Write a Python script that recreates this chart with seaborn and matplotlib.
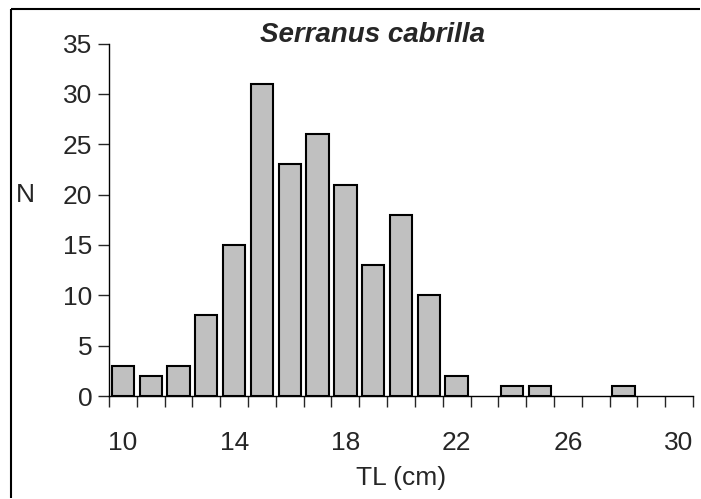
import numpy as np
import pandas as pd
import matplotlib
matplotlib.use("Agg")
import matplotlib.pyplot as plt
from matplotlib.lines import Line2D
import seaborn as sb

# Length classes (cm) and counts
tl_cm = [10, 11, 12, 13, 14, 15, 16, 17, 18, 19, 20, 21, 22, 23, 24, 25, 26, 27, 28, 29, 30]
n_fish = [3, 2, 3, 8, 15, 31, 23, 26, 21, 13, 18, 10, 2, 0, 1, 1, 0, 0, 1, 0, 0]
tick_labels = ["10", "14", "18", "22", "26", "30"]
title = "Serranus cabrilla"

sb.set_style("white")
plt.rcParams['font.family'] = ['Liberation Sans', 'DejaVu Sans']

df = pd.DataFrame({"TL": tl_cm, "N": n_fish})

fig = plt.figure(figsize=(7.01, 4.99), dpi=100)
ax = fig.add_axes([109 / 701, 1 - 396 / 499, (693 - 109) / 701, (396 - 43.5) / 499])

sb.barplot(data=df, x="TL", y="N", order=tl_cm, color="#c0c0c0", saturation=1,
           edgecolor="black", linewidth=1.5, width=0.8, ax=ax)

# empty classes: no bar outline
for p in ax.patches:
    if p.get_height() == 0:
        p.set_visible(False)

ax.set_xlim(-0.5, len(tl_cm) - 0.5)
ax.set_ylim(0, 35)
ax.set_yticks(np.arange(0, 36, 5))
ax.tick_params(axis="y", direction="out", length=8, width=1, labelsize=19, pad=4, left=True)

# labels every 4th class, tick marks between classes
ax.set_xticks(np.arange(0, len(tl_cm), 4))
ax.set_xticklabels(tick_labels)
ax.set_xticks(np.arange(-0.5, len(tl_cm), 1), minor=True)
ax.tick_params(axis="x", which="major", length=0, labelsize=19, pad=25)
ax.tick_params(axis="x", which="minor", direction="out", length=8, width=1, bottom=True)

for s in ["top", "right"]:
    ax.spines[s].set_visible(False)
for s in ["left", "bottom"]:
    ax.spines[s].set_color("black")
    ax.spines[s].set_linewidth(1)

ax.set_xlabel("TL (cm)", fontsize=19, labelpad=8)
ax.set_ylabel("N", fontsize=19, rotation=0, va="center")
ax.yaxis.set_label_coords(-0.143, 20 / 35)

fig.text(372 / 701, 1 - 35 / 499, title, fontsize=20, fontweight="bold", fontstyle="italic",
         ha="center", va="center")

# outer chart frame (left and top edges only are in view)
top_y = 1 - 8.5 / 499
left_x = 10.5 / 701
fig.add_artist(Line2D([left_x, 700 / 701], [top_y, top_y], transform=fig.transFigure,
                      color="black", linewidth=1.5, solid_capstyle="butt"))
fig.add_artist(Line2D([left_x, left_x], [1 / 499, top_y], transform=fig.transFigure,
                      color="black", linewidth=1.5, solid_capstyle="butt"))

fig.savefig("out.png", dpi=100, facecolor="white", edgecolor="none")
